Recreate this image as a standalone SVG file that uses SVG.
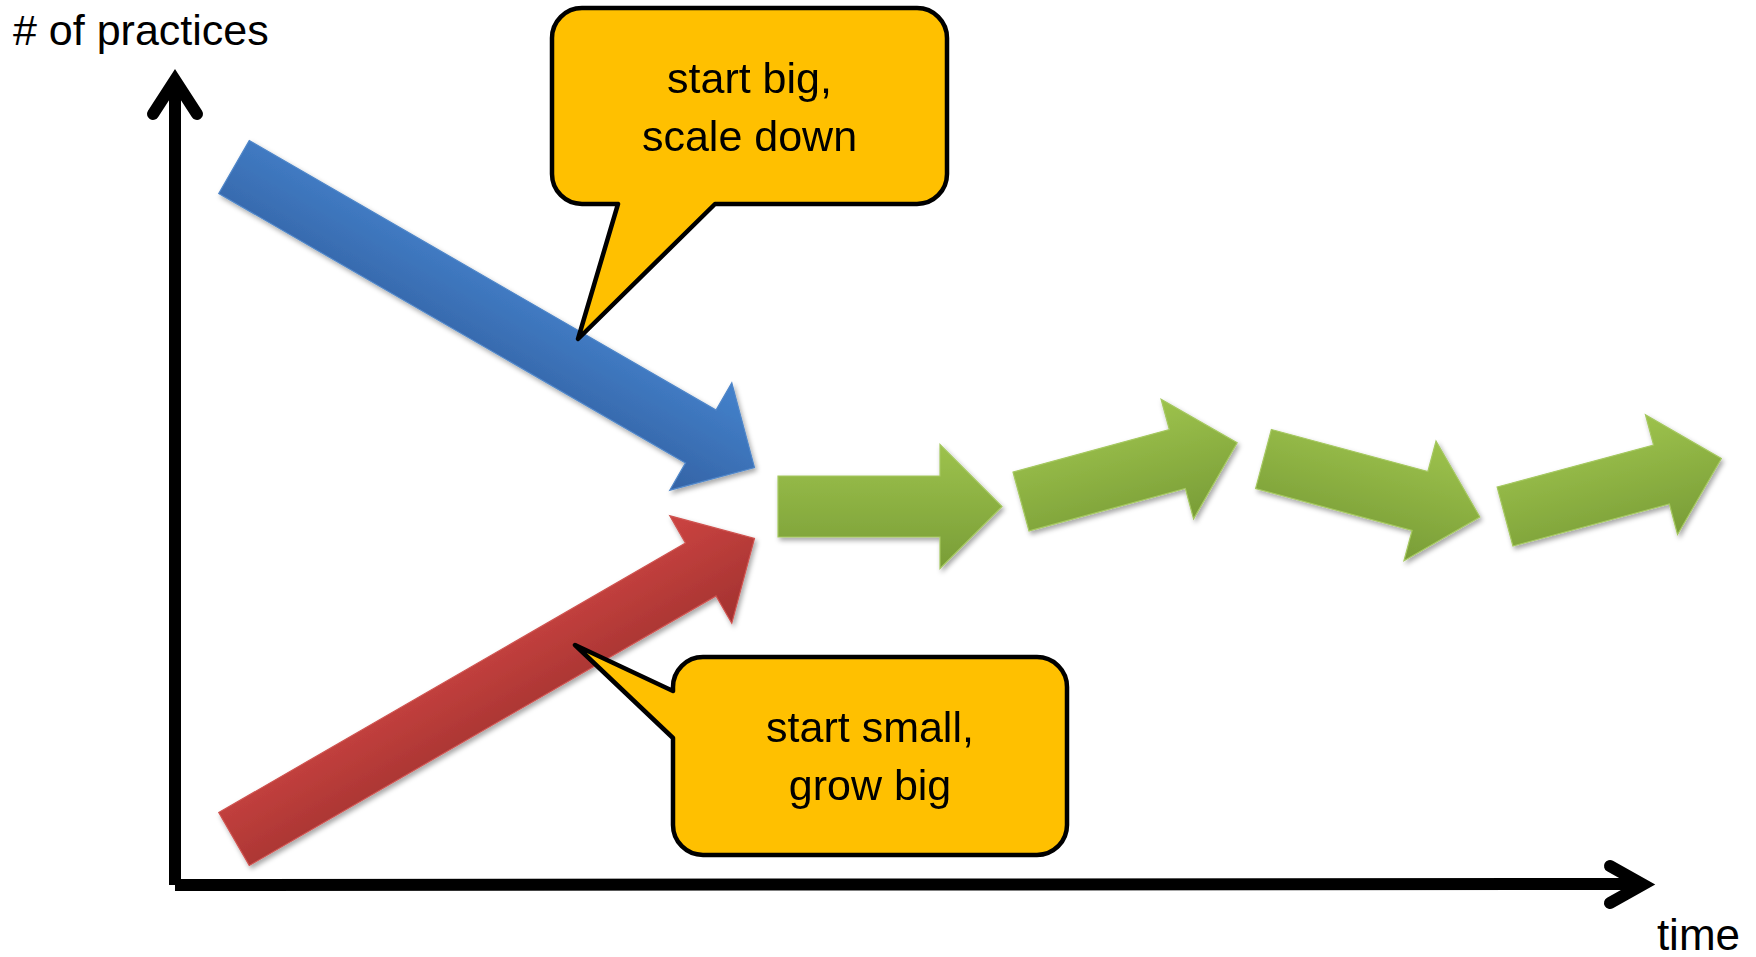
<svg xmlns="http://www.w3.org/2000/svg" width="1756" height="957" viewBox="0 0 1756 957">
  <style>
    .lbl { font-family: "Liberation Sans", Arial, sans-serif; font-size: 43px; fill: #000; }
    .axis { fill: none; stroke: #000; stroke-width: 12; }
    .head { stroke-linecap: round; stroke-linejoin: miter; }
    .callout { fill: #FFC000; stroke: #000; stroke-width: 4.5; stroke-linejoin: round; }
  </style>
  <defs>
    <linearGradient id="gBlue" x1="0" y1="0" x2="0" y2="1">
      <stop offset="0" stop-color="#4482cc"/>
      <stop offset="1" stop-color="#3463a5"/>
    </linearGradient>
    <linearGradient id="gRed" x1="0" y1="0" x2="0" y2="1">
      <stop offset="0" stop-color="#cc4441"/>
      <stop offset="1" stop-color="#a23230"/>
    </linearGradient>
    <linearGradient id="gGreen" x1="0" y1="0" x2="0" y2="1">
      <stop offset="0" stop-color="#9dc24c"/>
      <stop offset="1" stop-color="#799d37"/>
    </linearGradient>
    <filter id="shadow" x="-10%" y="-30%" width="120%" height="160%">
      <feDropShadow dx="2" dy="3" stdDeviation="2.5" flood-color="#000" flood-opacity="0.35"/>
    </filter>
    <!-- block arrows, tail at origin pointing along +x -->
    <polygon id="longArrow" points="0,-30.5 539,-30.5 539,-62 601,0 539,62 539,30.5 0,30.5"/>
    <polygon id="shortArrow" points="0,-30.5 162,-30.5 162,-62 224,0 162,62 162,30.5 0,30.5"/>
  </defs>

  <rect width="1756" height="957" fill="#fff"/>

  <!-- axes -->
  <g id="axes">
    <line class="axis" x1="175" y1="885" x2="175" y2="84"/>
    <polyline class="axis head" points="153,114 175,80 197,114"/>
    <line class="axis" x1="175" y1="885" x2="1638" y2="884"/>
    <polyline class="axis head" points="1610,866 1643,884.5 1610,903"/>
    <text class="lbl" x="13" y="45"># of practices</text>
    <text class="lbl" x="1740" y="950" text-anchor="end" style="font-size:44px">time</text>
  </g>

  <!-- trend arrows -->
  <g id="arrow-down" filter="url(#shadow)">
    <use href="#longArrow" transform="translate(234,167) rotate(30)" fill="url(#gBlue)" stroke="#4f86c9" stroke-width="1.2"/>
  </g>
  <g id="arrow-up" filter="url(#shadow)">
    <use href="#longArrow" transform="translate(234,839) rotate(-30)" fill="url(#gRed)" stroke="#cf5350" stroke-width="1.2"/>
  </g>
  <g id="steps" filter="url(#shadow)" fill="url(#gGreen)" stroke="#a5c860" stroke-width="1.2">
    <use id="step1" href="#shortArrow" transform="translate(778,506.5)"/>
    <use id="step2" href="#shortArrow" transform="translate(1021,501.5) rotate(-15.2)"/>
    <use id="step3" href="#shortArrow" transform="translate(1263.5,459) rotate(15)"/>
    <use id="step4" href="#shortArrow" transform="translate(1505,516.5) rotate(-15)"/>
  </g>

  <!-- speech callouts -->
  <g id="callout-top">
    <path class="callout" d="M582,8 H917 A30,30 0 0 1 947,38 V174 A30,30 0 0 1 917,204 H715 L578,339 L618,204 H582 A30,30 0 0 1 552,174 V38 A30,30 0 0 1 582,8 Z"/>
    <text class="lbl" x="749.5" y="93" text-anchor="middle">start big,</text>
    <text class="lbl" x="749.5" y="151" text-anchor="middle">scale down</text>
  </g>
  <g id="callout-bottom">
    <path class="callout" d="M703,657 H1037 A30,30 0 0 1 1067,687 V825 A30,30 0 0 1 1037,855 H703 A30,30 0 0 1 673,825 V738 L575,645 L673,691 V687 A30,30 0 0 1 703,657 Z"/>
    <text class="lbl" x="870" y="742" text-anchor="middle">start small,</text>
    <text class="lbl" x="870" y="800" text-anchor="middle">grow big</text>
  </g>
</svg>
